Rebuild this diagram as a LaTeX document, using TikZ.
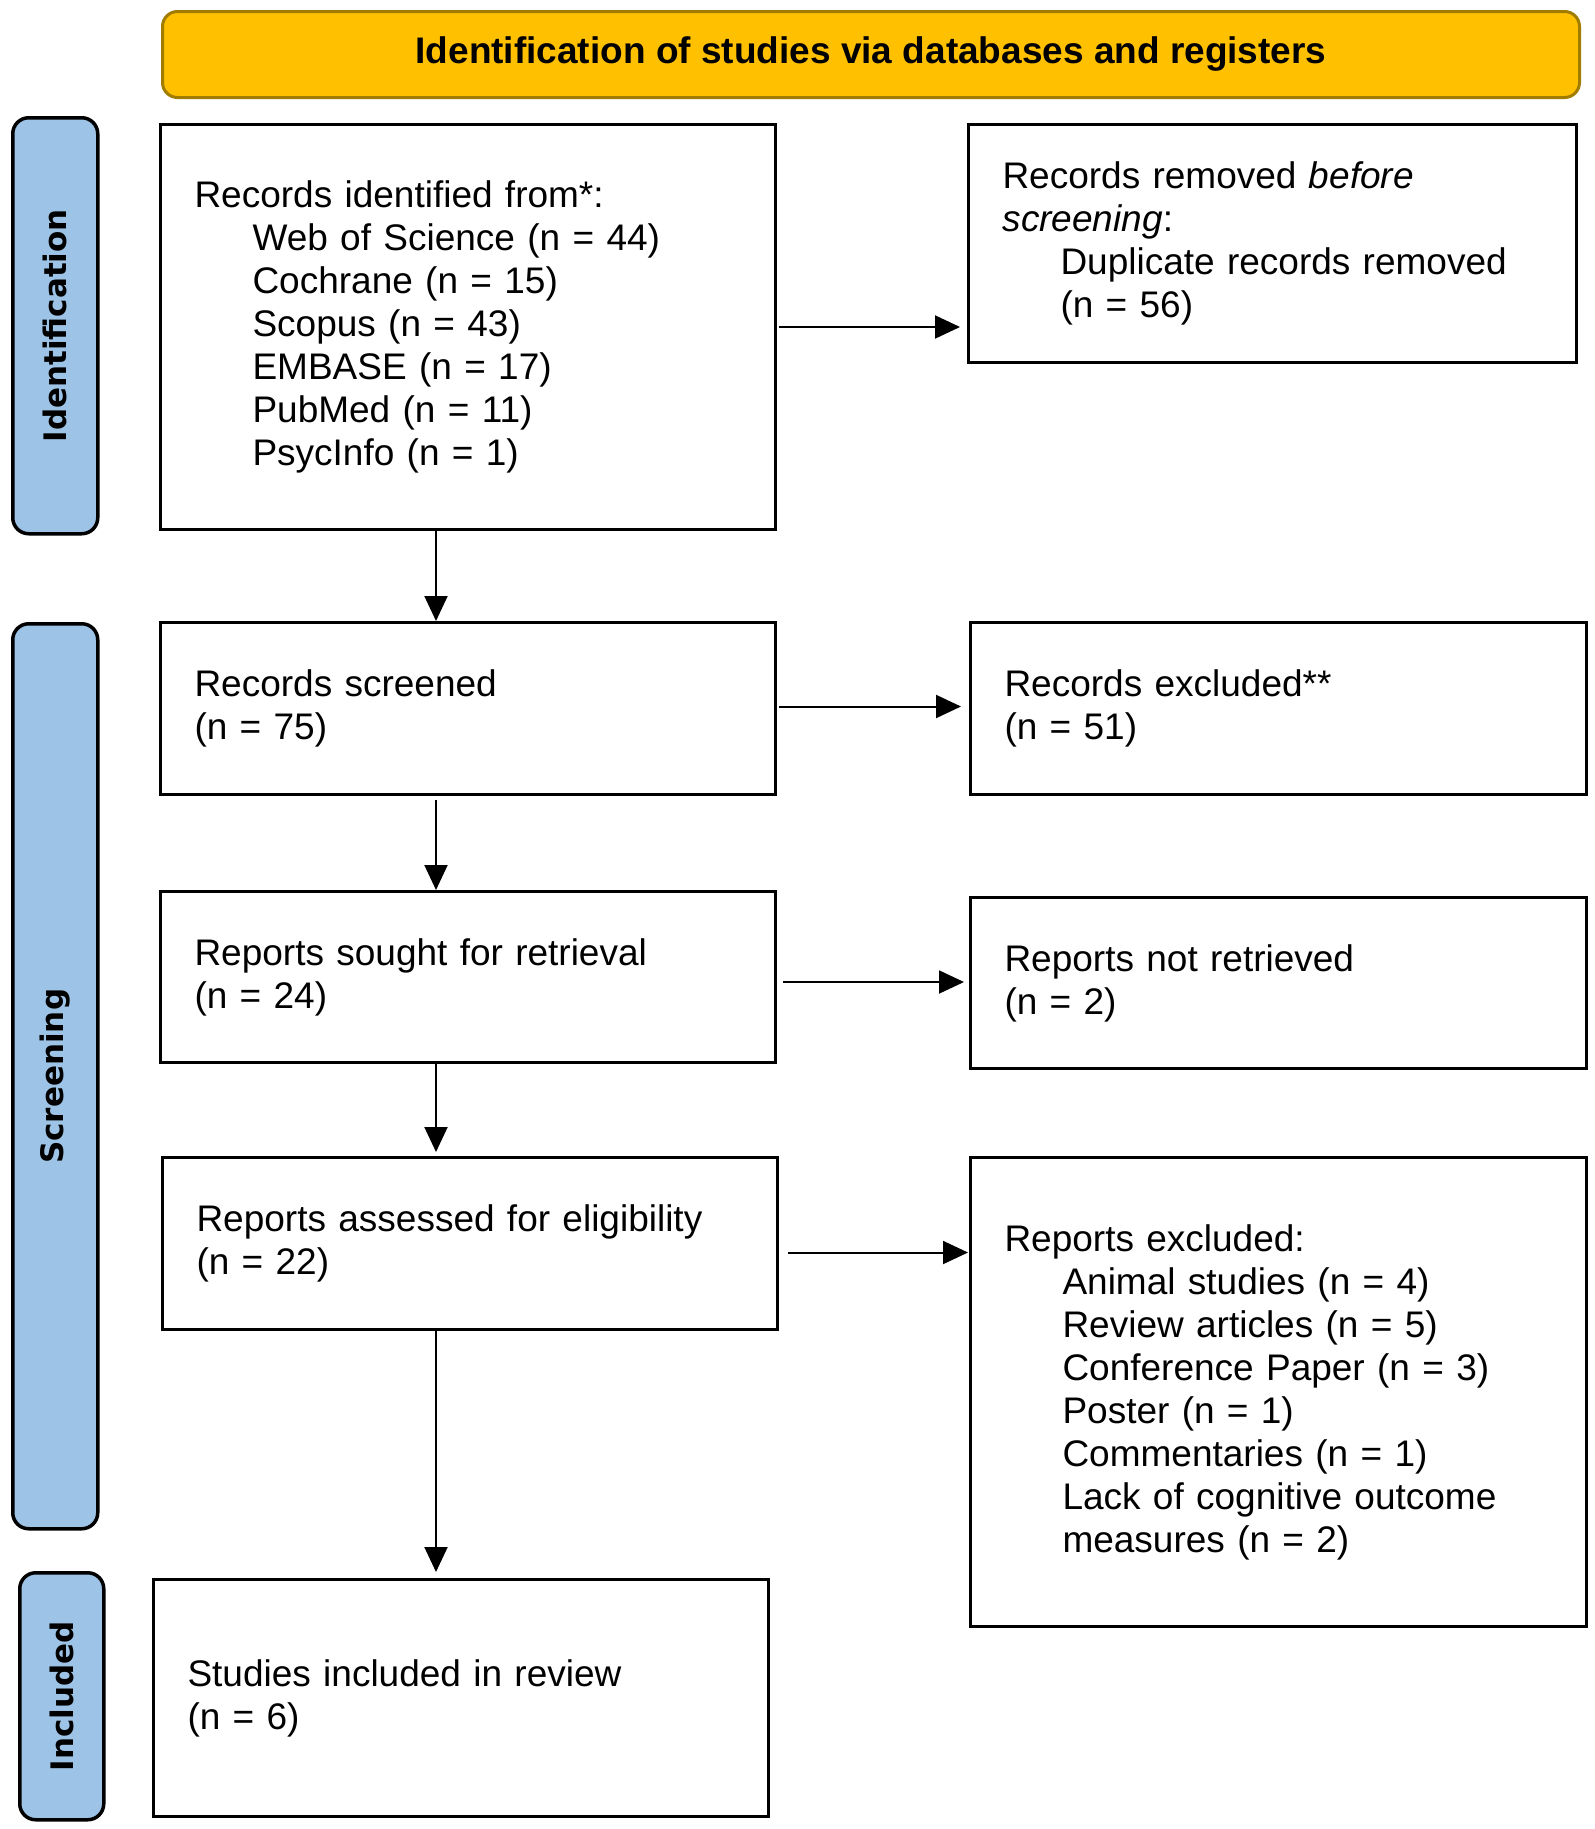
\documentclass[tikz,border=0pt]{standalone}
\usepackage{fontspec}
\setmainfont{Liberation Sans}
\newfontfamily\sidefont{DejaVu Sans}
\usetikzlibrary{arrows.meta,calc}
\definecolor{hdrfill}{HTML}{FFC000}
\definecolor{hdrdraw}{HTML}{A07C00}
\definecolor{sidefill}{HTML}{9DC3E6}
\begin{document}
\begin{tikzpicture}[x=1pt,y=-1pt,
  box/.style={draw, line width=3pt, rectangle, inner xsep=34pt, inner ysep=0pt,
    align=left, anchor=north west, font=\fontsize{37}{43}\selectfont},
  side/.style={draw, line width=3.5pt, fill=sidefill, rounded corners=16pt,
    anchor=north west, inner sep=0pt},
  sidelabel/.style={rotate=90, inner sep=0pt, font=\sidefont\bfseries\fontsize{31}{31}\selectfont},
  hdrbox/.style={draw=hdrdraw, fill=hdrfill, line width=3pt, rounded corners=15pt,
    anchor=north west, inner sep=0pt, font=\bfseries\fontsize{37}{43}\selectfont},
  arr/.style={line width=2pt, -{Triangle[length=25pt,width=23pt]}},
]
\useasboundingbox (0,0) rectangle (1595,1829);

% header
\node[hdrbox, minimum width=1417pt, minimum height=86pt] (hdr) at (161,10)
  {Identification of studies via databases and registers};

% side bars
\node[side, minimum width=85pt, minimum height=416pt] (sid) at (11,116) {};
\node[sidelabel] (sidt) at (sid.center) {Identification};
\node[side, minimum width=85pt, minimum height=905pt] (sscr) at (11,622) {};
\node[sidelabel] (sscrt) at (sscr.center) {Screening};
\node[side, minimum width=84pt, minimum height=247pt] (sinc) at (18,1571) {};
\node[sidelabel] (sinct) at (sinc.center) {Included};

% left column
\node[box, text width=547pt, minimum height=405pt] (b1) at (159,123)
  {Records identified from*:\\
   \hspace*{58pt}Web of Science (n = 44)\\
   \hspace*{58pt}Cochrane (n = 15)\\
   \hspace*{58pt}Scopus (n = 43)\\
   \hspace*{58pt}EMBASE (n = 17)\\
   \hspace*{58pt}PubMed (n = 11)\\
   \hspace*{58pt}PsycInfo (n = 1)};
\node[box, text width=547pt, minimum height=172pt] (scr) at (159,621)
  {Records screened\\(n = 75)};
\node[box, text width=547pt, minimum height=171pt] (sou) at (159,890)
  {Reports sought for retrieval\\(n = 24)};
\node[box, text width=547pt, minimum height=172pt] (ass) at (161,1156)
  {Reports assessed for eligibility\\(n = 22)};
\node[box, text width=547pt, minimum height=237pt] (inc) at (152,1578)
  {Studies included in review\\(n = 6)};

% right column
\node[box, text width=540pt, minimum height=238pt] (rem) at (967,123)
  {Records removed \textit{before}\\
   \textit{screening}:\\
   \hspace*{58pt}Duplicate records removed\\
   \hspace*{58pt}(n = 56)};
\node[box, text width=548pt, minimum height=172pt] (exc) at (969,621)
  {Records excluded**\\(n = 51)};
\node[box, text width=548pt, minimum height=171pt] (nr) at (969,896)
  {Reports not retrieved\\(n = 2)};
\node[box, text width=548pt, minimum height=469pt] (rex) at (969,1156)
  {Reports excluded:\\
   \hspace*{58pt}Animal studies (n = 4)\\
   \hspace*{58pt}Review articles (n = 5)\\
   \hspace*{58pt}Conference Paper (n = 3)\\
   \hspace*{58pt}Poster (n = 1)\\
   \hspace*{58pt}Commentaries (n = 1)\\
   \hspace*{58pt}Lack of cognitive outcome\\
   \hspace*{58pt}measures (n = 2)};

% vertical arrows
\coordinate (ax) at (436,0);
\draw[arr] (b1.south -| ax) -- (scr.north -| ax);
\draw[arr, shorten <=4pt] (scr.south -| ax) -- (sou.north -| ax);
\draw[arr] (sou.south -| ax) -- ($(ass.north -| ax)+(0,-4)$);
\draw[arr] (ass.south -| ax) -- ($(inc.north -| ax)+(0,-6)$);

% horizontal arrows
\draw[arr, shorten >=7pt] ($(b1.east)+(2,0)$) -- (b1.east -| rem.west);
\draw[arr, shorten >=8pt] ($(scr.east)+(2,-2)$) -- ($(scr.east -| exc.west)+(0,-2)$);
\draw[arr, shorten >=5pt] ($(sou.east)+(6,5)$) -- ($(sou.east -| nr.west)+(0,5)$);
\draw[arr, shorten >=1pt] ($(ass.east)+(9,9)$) -- ($(ass.east -| rex.west)+(0,9)$);
\end{tikzpicture}
\end{document}
